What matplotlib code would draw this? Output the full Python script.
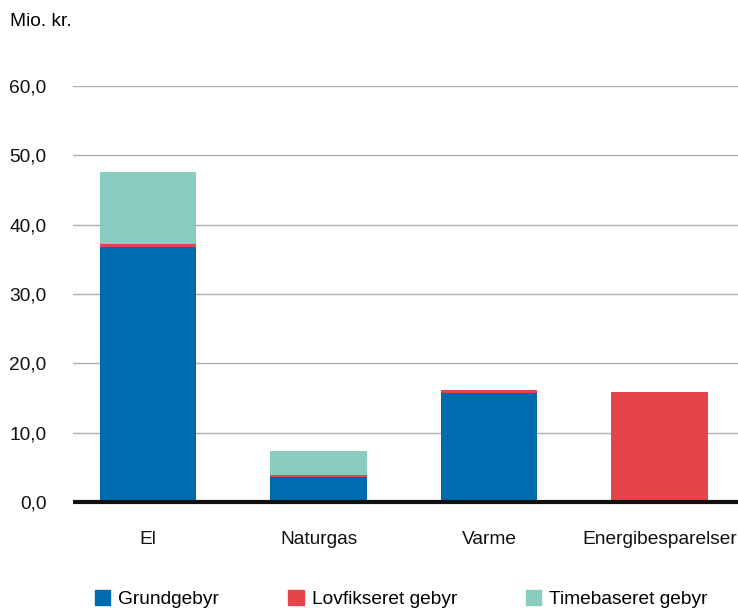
import numpy as np
import matplotlib.pyplot as plt
from matplotlib.patches import Patch

plt.rcParams['font.family'] = ['Liberation Sans', 'DejaVu Sans']

categories = ['El', 'Naturgas', 'Varme', 'Energibesparelser']
grundgebyr = [36.8, 3.6, 15.7, 0.0]
lovfikseret = [0.4, 0.35, 0.45, 15.9]
timebaseret = [10.4, 3.4, 0.0, 0.0]
yticks = [0, 10, 20, 30, 40, 50, 60]

c_blue = '#006aae'
c_red = '#e6434a'
c_teal = '#8acdc0'
fs = 13.8

fig = plt.figure(figsize=(7.38, 6.08), dpi=100)
ax = fig.add_axes([73/738, 1 - 502/608, 1 - 73/738, (502 - 86)/608])

x = np.arange(len(categories))
w = 0.565
g = np.array(grundgebyr)
l = np.array(lovfikseret)
t = np.array(timebaseret)
ax.bar(x, g, w, color=c_blue, zorder=3)
ax.bar(x, l, w, bottom=g, color=c_red, zorder=3)
ax.bar(x, t, w, bottom=g + l, color=c_teal, zorder=3)

ax.set_xlim(-0.44, 3.46)
ax.set_ylim(0, 60)
ax.set_yticks(yticks)
ax.set_yticklabels([f'{v:.1f}'.replace('.', ',') for v in yticks], fontsize=fs)
ax.set_xticks(x)
ax.set_xticklabels(categories, fontsize=fs)
ax.tick_params(axis='both', length=0, colors='#111111')
ax.tick_params(axis='y', pad=19)
ax.tick_params(axis='x', pad=21)
ax.grid(axis='y', color='#b0b0b0', linewidth=1, zorder=0)
for s in ['top', 'right', 'left']:
    ax.spines[s].set_visible(False)
ax.spines['bottom'].set_linewidth(3)
ax.spines['bottom'].set_color('#111111')
ax.spines['bottom'].set_capstyle('butt')
ax.spines['bottom'].set_zorder(4)

fig.text(10/738, 1 - 22/608, 'Mio. kr.', fontsize=fs, va='center', ha='left')

handles = [Patch(color=c_blue, label='Grundgebyr'),
           Patch(color=c_red, label='Lovfikseret gebyr'),
           Patch(color=c_teal, label='Timebaseret gebyr')]
fig.legend(handles=handles, loc='center left', bbox_to_anchor=(95/738, 1 - 599/608),
           ncol=3, frameon=False, fontsize=fs, handlelength=0.8, handleheight=0.8,
           handletextpad=0.42, columnspacing=3.6, borderpad=0, borderaxespad=0)

fig.savefig('out.png', dpi=100)
